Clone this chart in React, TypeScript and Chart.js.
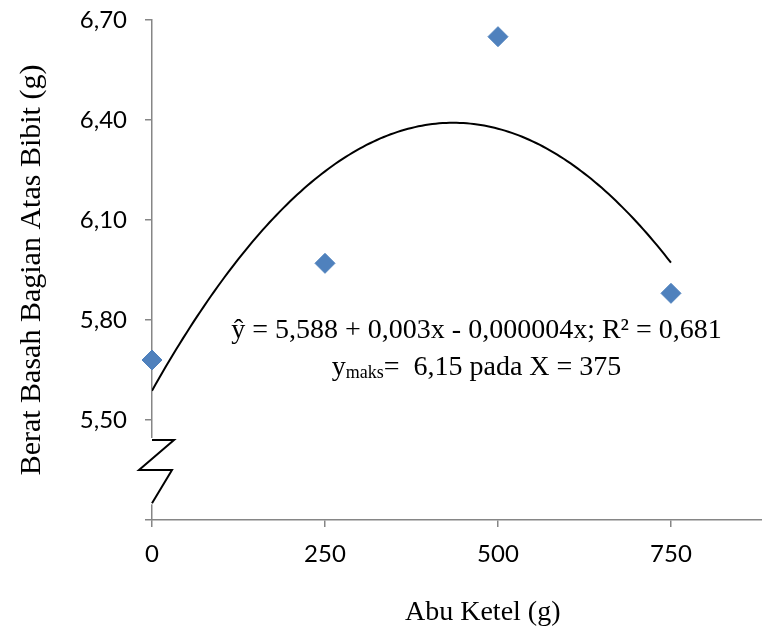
import React, { useEffect, useRef } from "react";
import { Chart, registerables } from "chart.js";

Chart.register(...registerables);

// ---- data ----
const doses = [0, 250, 500, 750];
const weights = [5.68, 5.97, 6.65, 5.88];
const xTicks = [0, 250, 500, 750];
const yTicks = [5.2, 5.5, 5.8, 6.1, 6.4, 6.7];
const yTitle = "Berat Basah Bagian Atas Bibit (g)";
const xTitle = "Abu Ketel (g)";
const eqLine = "ŷ = 5,588 + 0,003x - 0,000004x; R² = 0,681";
const maxMain = "y";
const maxSub = "maks";
const maxRest = "=  6,15 pada X = 375";

const SERIF = "'Times New Roman', 'Liberation Serif', serif";
const SANS = "Lato, 'Open Sans', sans-serif";
const AXIS_GRAY = "#868686";

// least-squares quadratic fit (polynomial trendline of the data)
function quadFit(xs: number[], ys: number[]) {
  const s = [0, 0, 0, 0, 0];
  const t = [0, 0, 0];
  for (let i = 0; i < xs.length; i++) {
    const x = xs[i] / 250;
    for (let k = 0; k < 5; k++) s[k] += Math.pow(x, k);
    for (let k = 0; k < 3; k++) t[k] += Math.pow(x, k) * ys[i];
  }
  const m = [
    [s[0], s[1], s[2], t[0]],
    [s[1], s[2], s[3], t[1]],
    [s[2], s[3], s[4], t[2]],
  ];
  for (let c = 0; c < 3; c++) {
    for (let r = c + 1; r < 3; r++) {
      const f = m[r][c] / m[c][c];
      for (let k = c; k < 4; k++) m[r][k] -= f * m[c][k];
    }
  }
  const sol = [0, 0, 0];
  for (let r = 2; r >= 0; r--) {
    let v = m[r][3];
    for (let k = r + 1; k < 3; k++) v -= m[r][k] * sol[k];
    sol[r] = v / m[r][r];
  }
  return (x: number) => {
    const u = x / 250;
    return sol[0] + sol[1] * u + sol[2] * u * u;
  };
}

const fit = quadFit(doses, weights);
const trend: { x: number; y: number }[] = [];
for (let i = 0; i <= 150; i++) {
  const x = (doses[doses.length - 1] * i) / 150;
  trend.push({ x, y: fit(x) });
}

const decorPlugin = {
  id: "decor",
  afterDraw(chart: any) {
    const { ctx, scales, chartArea } = chart;
    const xs = scales.x;
    const ys = scales.y;
    const ax = xs.getPixelForValue(0);
    const yTop = ys.getPixelForValue(5.44);
    const yMid = ys.getPixelForValue(5.35);
    const yBot = ys.getPixelForValue(5.25);
    ctx.save();
    // axis break
    ctx.fillStyle = "#ffffff";
    ctx.fillRect(ax - 3, yTop - 2, 6, yBot - yTop + 3);
    ctx.strokeStyle = "#000000";
    ctx.lineWidth = 2;
    ctx.lineJoin = "miter";
    ctx.beginPath();
    ctx.moveTo(ax, yTop);
    ctx.lineTo(ax + 22, yTop);
    ctx.lineTo(ax - 13, yMid);
    ctx.lineTo(ax + 20, yMid);
    ctx.lineTo(ax, yBot);
    ctx.stroke();

    // equation annotation
    ctx.fillStyle = "#000000";
    ctx.textBaseline = "alphabetic";
    ctx.textAlign = "left";
    const cx = xs.getPixelForValue(469);
    ctx.font = `28px ${SERIF}`;
    const w1 = ctx.measureText(eqLine).width;
    ctx.fillText(eqLine, cx - w1 / 2, ys.getPixelForValue(5.7475));

    const b2 = ys.getPixelForValue(5.635);
    ctx.font = `28px ${SERIF}`;
    const wy = ctx.measureText(maxMain).width;
    const wr = ctx.measureText(maxRest).width;
    ctx.font = `18px ${SERIF}`;
    const ws = ctx.measureText(maxSub).width;
    let px = cx - (wy + ws + wr) / 2;
    ctx.font = `28px ${SERIF}`;
    ctx.fillText(maxMain, px, b2);
    px += wy;
    ctx.font = `18px ${SERIF}`;
    ctx.fillText(maxSub, px, b2 + 3);
    px += ws;
    ctx.font = `28px ${SERIF}`;
    ctx.fillText(maxRest, px, b2);

    // x axis title
    ctx.textAlign = "center";
    ctx.textBaseline = "middle";
    ctx.font = `28px ${SERIF}`;
    ctx.fillText(xTitle, xs.getPixelForValue(478), chartArea.bottom + 93);
    ctx.restore();
  },
};

export default function App() {
  const ref = useRef<HTMLCanvasElement | null>(null);
  useEffect(() => {
    if (!ref.current) return;
    const chart = new Chart(ref.current, {
      type: "scatter",
      data: {
        datasets: [
          {
            type: "line",
            label: "Trend",
            data: trend,
            borderColor: "#000000",
            borderWidth: 2,
            pointRadius: 0,
            fill: false,
            tension: 0,
            order: 2,
          } as any,
          {
            label: "Berat basah",
            data: doses.map((d, i) => ({ x: d, y: weights[i] })),
            pointStyle: "rectRot",
            pointRadius: 10,
            pointHoverRadius: 10,
            backgroundColor: "#4F81BD",
            borderColor: "#4F81BD",
            borderWidth: 1,
            clip: false,
            order: 1,
          } as any,
        ],
      },
      options: {
        animation: false,
        responsive: false,
        events: [],
        layout: { padding: { top: 20, right: 0, left: 0, bottom: 0 } },
        plugins: {
          legend: { display: false },
          tooltip: { enabled: false },
        },
        scales: {
          x: {
            type: "linear",
            min: 0,
            max: 883,
            afterBuildTicks: (s: any) => {
              s.ticks = xTicks.map((v) => ({ value: v }));
            },
            afterFit: (s: any) => {
              s.height = 112;
              s.paddingLeft = 0;
              s.paddingRight = 0;
            },
            grid: {
              drawOnChartArea: false,
              drawTicks: true,
              tickLength: 7,
              color: AXIS_GRAY,
              lineWidth: 1.5,
            },
            border: { color: AXIS_GRAY, width: 1.5 },
            ticks: {
              color: "#000000",
              padding: 13,
              font: { family: SANS, size: 24 },
              maxRotation: 0,
              callback: (v: any) => String(v),
            },
          },
          y: {
            type: "linear",
            min: 5.2,
            max: 6.7,
            afterBuildTicks: (s: any) => {
              s.ticks = yTicks.map((v) => ({ value: v }));
            },
            afterFit: (s: any) => {
              s.width = 152;
              s.paddingTop = 0;
              s.paddingBottom = 0;
            },
            grid: {
              drawOnChartArea: false,
              drawTicks: true,
              tickLength: 7,
              color: AXIS_GRAY,
              lineWidth: 1.5,
            },
            border: { color: AXIS_GRAY, width: 1.5 },
            ticks: {
              color: "#000000",
              padding: 18,
              font: { family: SANS, size: 24 },
              callback: (v: any) =>
                Math.abs(v - 5.2) < 1e-9 ? "" : Number(v).toFixed(2).replace(".", ","),
            },
            title: {
              display: true,
              text: yTitle,
              color: "#000000",
              font: { family: SERIF, size: 30, weight: "normal" },
              padding: { top: 14, bottom: 0 },
            },
          },
        },
      },
      plugins: [decorPlugin],
    });
    return () => chart.destroy();
  }, []);

  return (
    <div
      style={{
        position: "absolute",
        left: 0,
        top: 0,
        width: 762,
        height: 632,
        overflow: "hidden",
        background: "#ffffff",
      }}
    >
      <canvas ref={ref} width={774} height={632} style={{ display: "block" }} />
    </div>
  );
}
